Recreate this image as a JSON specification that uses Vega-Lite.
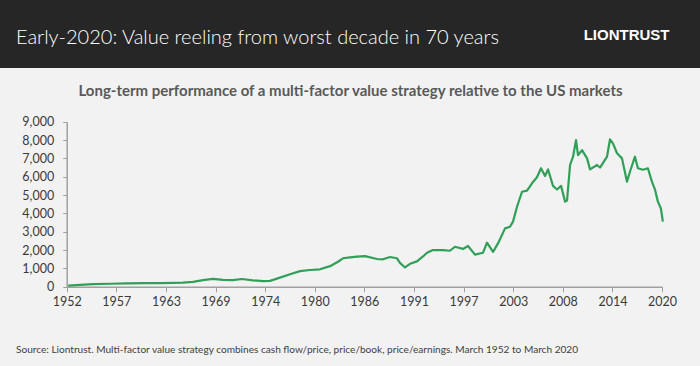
{
  "$schema": "https://vega.github.io/schema/vega-lite/v6.json",
  "width": 700,
  "height": 298,
  "autosize": {"type": "none"},
  "padding": {"top": 68, "left": 0, "right": 0, "bottom": 0},
  "background": "#262626",
  "config": {"view": {"fill": "#f2f2f2", "stroke": null}},
  "title": {
    "text": "Early-2020: Value reeling from worst decade in 70 years",
    "subtitle": "Source: Liontrust. Multi-factor value strategy combines cash flow/price, price/book, price/earnings. March 1952 to March 2020",
    "anchor": "start",
    "frame": "group",
    "dx": 16,
    "color": "#ffffff",
    "font": "Lato",
    "fontSize": 20,
    "fontWeight": 300,
    "subtitleColor": "#404040",
    "subtitleFont": "Lato",
    "subtitleFontSize": 10.1,
    "subtitlePadding": 297,
    "offset": -327.6
  },
  "data": {"values": [
    {"year": 1952.17, "value": 60},
    {"year": 1953.52, "value": 100},
    {"year": 1955.0, "value": 140},
    {"year": 1956.95, "value": 160},
    {"year": 1958.89, "value": 180},
    {"year": 1960.95, "value": 190},
    {"year": 1962.66, "value": 200},
    {"year": 1964.37, "value": 210},
    {"year": 1965.28, "value": 220},
    {"year": 1966.43, "value": 260},
    {"year": 1967.57, "value": 360},
    {"year": 1968.71, "value": 430},
    {"year": 1969.85, "value": 370},
    {"year": 1971.0, "value": 360},
    {"year": 1972.02, "value": 420},
    {"year": 1973.28, "value": 350},
    {"year": 1974.42, "value": 300},
    {"year": 1975.22, "value": 320},
    {"year": 1976.02, "value": 440},
    {"year": 1977.51, "value": 680},
    {"year": 1978.65, "value": 850},
    {"year": 1979.79, "value": 910},
    {"year": 1980.93, "value": 950},
    {"year": 1982.08, "value": 1120},
    {"year": 1982.99, "value": 1360},
    {"year": 1983.56, "value": 1550},
    {"year": 1984.36, "value": 1600},
    {"year": 1985.16, "value": 1640},
    {"year": 1986.08, "value": 1670},
    {"year": 1987.45, "value": 1510},
    {"year": 1988.13, "value": 1495},
    {"year": 1988.93, "value": 1620},
    {"year": 1989.73, "value": 1550},
    {"year": 1990.07, "value": 1300},
    {"year": 1990.64, "value": 1050},
    {"year": 1991.22, "value": 1250},
    {"year": 1992.01, "value": 1380},
    {"year": 1992.7, "value": 1650},
    {"year": 1993.16, "value": 1850},
    {"year": 1993.84, "value": 2000},
    {"year": 1994.98, "value": 2000},
    {"year": 1995.78, "value": 1960},
    {"year": 1996.35, "value": 2180},
    {"year": 1997.27, "value": 2060},
    {"year": 1997.84, "value": 2220},
    {"year": 1998.64, "value": 1750},
    {"year": 1999.55, "value": 1850},
    {"year": 2000.01, "value": 2400},
    {"year": 2000.7, "value": 1900},
    {"year": 2001.27, "value": 2360},
    {"year": 2002.07, "value": 3180},
    {"year": 2002.64, "value": 3270},
    {"year": 2002.98, "value": 3550},
    {"year": 2003.44, "value": 4360},
    {"year": 2004.01, "value": 5180},
    {"year": 2004.58, "value": 5240},
    {"year": 2005.15, "value": 5640},
    {"year": 2005.72, "value": 5970},
    {"year": 2006.18, "value": 6460},
    {"year": 2006.64, "value": 6040},
    {"year": 2006.98, "value": 6400},
    {"year": 2007.55, "value": 5500},
    {"year": 2008.01, "value": 5300},
    {"year": 2008.47, "value": 5500},
    {"year": 2008.93, "value": 4640},
    {"year": 2009.15, "value": 4700},
    {"year": 2009.5, "value": 6640},
    {"year": 2009.84, "value": 7090},
    {"year": 2010.18, "value": 8000},
    {"year": 2010.41, "value": 7180},
    {"year": 2010.87, "value": 7450},
    {"year": 2011.44, "value": 7000},
    {"year": 2011.78, "value": 6400},
    {"year": 2012.58, "value": 6640},
    {"year": 2012.92, "value": 6500},
    {"year": 2013.72, "value": 7090},
    {"year": 2014.06, "value": 8040},
    {"year": 2014.41, "value": 7800},
    {"year": 2014.86, "value": 7280},
    {"year": 2015.43, "value": 7000},
    {"year": 2016.0, "value": 5730},
    {"year": 2016.34, "value": 6270},
    {"year": 2016.91, "value": 7090},
    {"year": 2017.25, "value": 6460},
    {"year": 2017.82, "value": 6380},
    {"year": 2018.39, "value": 6460},
    {"year": 2018.85, "value": 5730},
    {"year": 2019.19, "value": 5310},
    {"year": 2019.53, "value": 4640},
    {"year": 2019.87, "value": 4280},
    {"year": 2020.1, "value": 3550}
  ]},
  "mark": {"type": "line", "color": "#30a058", "strokeWidth": 2.2, "strokeJoin": "round"},
  "encoding": {
    "x": {
      "field": "year",
      "type": "quantitative",
      "scale": {"domain": [1952, 2020], "range": [66.7, 662], "nice": false, "zero": false},
      "axis": {
        "orient": "bottom",
        "offset": -79.3,
        "values": [1952, 1957.667, 1963.333, 1969, 1974.667, 1980.333, 1986, 1991.667, 1997.333, 2003, 2008.667, 2014.333, 2020],
        "labelExpr": "floor(datum.value)",
        "labelFlush": false,
        "labelOverlap": false,
        "labelFont": "Lato",
        "labelFontSize": 12.5,
        "labelColor": "#3a3a3a",
        "labelPadding": 4,
        "tickSize": 5,
        "tickColor": "#a0a0a0",
        "domainColor": "#a0a0a0",
        "domainWidth": 1.5,
        "grid": false,
        "title": "Long-term performance of a multi-factor value strategy relative to the US markets",
        "titleX": 350,
        "titleY": -196,
        "titleAlign": "center",
        "titleBaseline": "middle",
        "titleFont": "Lato",
        "titleFontSize": 15,
        "titleFontWeight": "bold",
        "titleColor": "#595959"
      }
    },
    "y": {
      "field": "value",
      "type": "quantitative",
      "scale": {"domain": [0, 9000], "range": [218.7, 53.7], "nice": false},
      "axis": {
        "orient": "left",
        "offset": -66.7,
        "values": [0, 1000, 2000, 3000, 4000, 5000, 6000, 7000, 8000, 9000],
        "labelExpr": "format(datum.value, ',.0f')",
        "labelFont": "Lato",
        "labelFontSize": 12.5,
        "labelColor": "#3a3a3a",
        "labelPadding": 9,
        "tickSize": 4,
        "tickColor": "#a0a0a0",
        "domainColor": "#a0a0a0",
        "domainWidth": 1.5,
        "grid": false,
        "title": "LIONTRUST",
        "titleAngle": 0,
        "titleX": 602.3,
        "titleY": -34,
        "titleAlign": "right",
        "titleBaseline": "middle",
        "titleColor": "#ffffff",
        "titleFont": "Liberation Sans",
        "titleFontSize": 15,
        "titleFontWeight": "bold"
      }
    }
  }
}
